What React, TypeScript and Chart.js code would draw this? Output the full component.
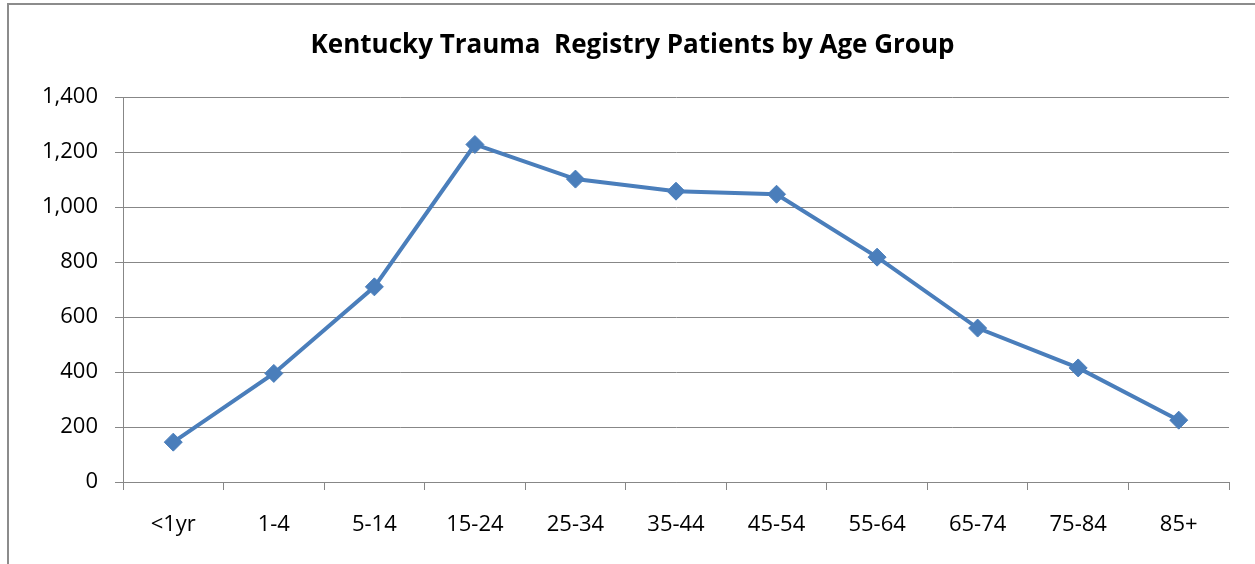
import React, { useEffect, useRef } from "react";
import { Chart, registerables } from "chart.js";

Chart.register(...registerables);

const categories = ["<1yr", "1-4", "5-14", "15-24", "25-34", "35-44", "45-54", "55-64", "65-74", "75-84", "85+"];
const patients = [145, 395, 710, 1228, 1102, 1058, 1047, 818, 560, 415, 225];
const yTicks = [0, 200, 400, 600, 800, 1000, 1200, 1400];
const titleText = "Kentucky Trauma  Registry Patients by Age Group";

const GRID = "#878787";
const LINE = "#4A7EBB";

export default function App() {
  const ref = useRef<HTMLCanvasElement | null>(null);

  useEffect(() => {
    if (!ref.current) return;
    const chart = new Chart(ref.current, {
      type: "line",
      data: {
        labels: categories,
        datasets: [
          {
            data: patients,
            borderColor: LINE,
            backgroundColor: LINE,
            borderWidth: 4,
            pointStyle: "rectRot",
            pointRadius: 9,
            pointBorderWidth: 1,
            pointBackgroundColor: LINE,
            pointBorderColor: LINE,
            tension: 0,
          },
        ],
      },
      options: {
        responsive: false,
        animation: false,
        layout: { padding: { left: 36, right: 26, top: 0, bottom: 0 } },
        plugins: {
          legend: { display: false },
          tooltip: { enabled: false },
          title: {
            display: true,
            text: titleText,
            color: "#000",
            font: { family: "Open Sans", size: 26, weight: "bold" },
            padding: { top: 30, bottom: 36 },
          },
        },
        scales: {
          x: {
            offset: true,
            grid: {
              offset: true,
              drawOnChartArea: false,
              drawTicks: true,
              tickLength: 8,
              color: GRID,
              lineWidth: 1,
            },
            border: { display: true, color: GRID, width: 1 },
            ticks: {
              color: "#000",
              font: { family: "Open Sans", size: 22 },
              padding: 22,
              maxRotation: 0,
              autoSkip: false,
            },
            afterFit: (s: any) => {
              s.height = 82;
            },
          },
          y: {
            min: 0,
            max: 1400,
            afterBuildTicks: (s: any) => {
              s.ticks = yTicks.map((v) => ({ value: v }));
            },
            grid: {
              color: GRID,
              lineWidth: 1,
              drawTicks: true,
              tickLength: 8,
            },
            border: { display: true, color: GRID, width: 1 },
            ticks: {
              color: "#000",
              font: { family: "Open Sans", size: 22 },
              padding: 17,
              callback: (v: any) => Number(v).toLocaleString("en-US"),
            },
            afterFit: (s: any) => {
              s.width = 87;
            },
          },
        },
      },
    });
    return () => chart.destroy();
  }, []);

  return (
    <div
      style={{
        position: "absolute",
        left: 0,
        top: 0,
        width: 1255,
        height: 564,
        overflow: "hidden",
        background: "#fff",
      }}
    >
      <div
        style={{
          position: "absolute",
          left: 7,
          top: 3,
          width: 1300,
          height: 700,
          borderTop: "2px solid #8c8c8c",
          borderLeft: "2px solid #8c8c8c",
        }}
      />
      <canvas
        ref={ref}
        width={1255}
        height={564}
        style={{ position: "absolute", left: 0, top: 0, width: 1255, height: 564 }}
      />
    </div>
  );
}
